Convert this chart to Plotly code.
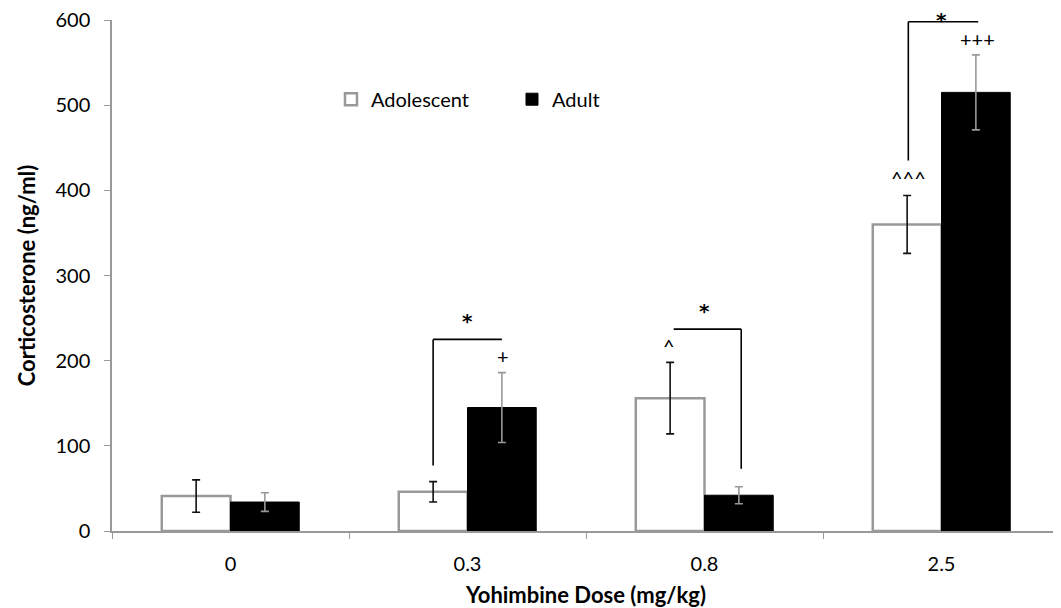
import plotly.graph_objects as go

doses = ["0", "0.3", "0.8", "2.5"]
adolescent = [41, 46, 156, 360]
adolescent_err = [19, 12, 42, 34]
adult = [34, 145, 42, 515]
adult_err = [11, 41, 10, 44]

FONT = "Lato"

fig = go.Figure()
fig.add_trace(go.Bar(
    name="Adolescent", x=doses, y=adolescent,
    marker=dict(color="white", line=dict(color="#999999", width=2.5)),
    error_y=dict(type="data", array=adolescent_err, color="#111111", thickness=1.6, width=4),
))
fig.add_trace(go.Bar(
    name="Adult", x=doses, y=adult,
    marker=dict(color="black", line=dict(color="black", width=1)),
    error_y=dict(type="data", array=adult_err, color="#999999", thickness=1.6, width=4),
))

line = dict(color="black", width=1.6)
# 0.3 bracket
fig.add_shape(type="line", x0=0.855, x1=0.855, y0=77, y1=225, xref="x", yref="y", line=line)
fig.add_shape(type="line", x0=0.855, x1=1.145, y0=225, y1=225, xref="x", yref="y", line=line)
# 0.8 bracket
fig.add_shape(type="line", x0=2.155, x1=2.155, y0=73, y1=237, xref="x", yref="y", line=line)
fig.add_shape(type="line", x0=1.87, x1=2.155, y0=237, y1=237, xref="x", yref="y", line=line)
# 2.5 bracket
fig.add_shape(type="line", x0=2.86, x1=2.86, y0=435, y1=598, xref="x", yref="y", line=line)
fig.add_shape(type="line", x0=2.86, x1=3.155, y0=598, y1=598, xref="x", yref="y", line=line)

marks = [
    (1.0, 246, "*", 0), (1.15, 205, "+", 0),
    (1.85, 217, "^", 0), (2.0, 258, "*", 0),
    (3.0, 600, "*", 0), (3.15, 578, "+++", 0), (2.86, 414, "^^^", 0),
]
for x, y, t, ys in marks:
    big = t == "*"
    fig.add_annotation(x=x, y=y, text=("<b>*</b>" if big else t), showarrow=False,
                       xref="x", yref="y", yshift=ys,
                       font=dict(family="DejaVu Sans" if big else FONT,
                                 size=20, color="black"))

# page body has an 8px margin: figure is 1053x600 so it fills the 1061x608 window
fig.update_layout(
    width=1053, height=600,
    margin=dict(l=104, r=1, t=12, b=77, autoexpand=False),
    paper_bgcolor="white", plot_bgcolor="white",
    barmode="group", bargap=0.42, bargroupgap=0,
    font=dict(family=FONT, size=20, color="black"),
    legend=dict(orientation="h", x=0.231, y=0.845, xanchor="left", yanchor="middle",
                font=dict(family=FONT, size=20), itemwidth=30, entrywidth=136,
                bgcolor="rgba(0,0,0,0)"),
    showlegend=True,
)
fig.update_xaxes(
    type="category", tickson="boundaries", ticks="outside", ticklen=6,
    tickcolor="#999999", linecolor="#999999", linewidth=1.5, showline=True,
    showgrid=False, ticklabelstandoff=14, automargin=False,
    title=dict(text="<b>Yohimbine Dose (mg/kg)</b>", font=dict(family=FONT, size=22), standoff=15),
)
fig.update_yaxes(
    range=[0, 600], tickvals=[0, 100, 200, 300, 400, 500, 600],
    ticks="outside", ticklen=6, tickcolor="#999999", linecolor="#999999", linewidth=1.5,
    showline=True, showgrid=False, zeroline=False, ticklabelstandoff=10, automargin=False,
    ticklabeloverflow="allow",
    title=dict(text="<b>Corticosterone (ng/ml)</b>", font=dict(family=FONT, size=22), standoff=14),
)

fig.write_html("out.html")
